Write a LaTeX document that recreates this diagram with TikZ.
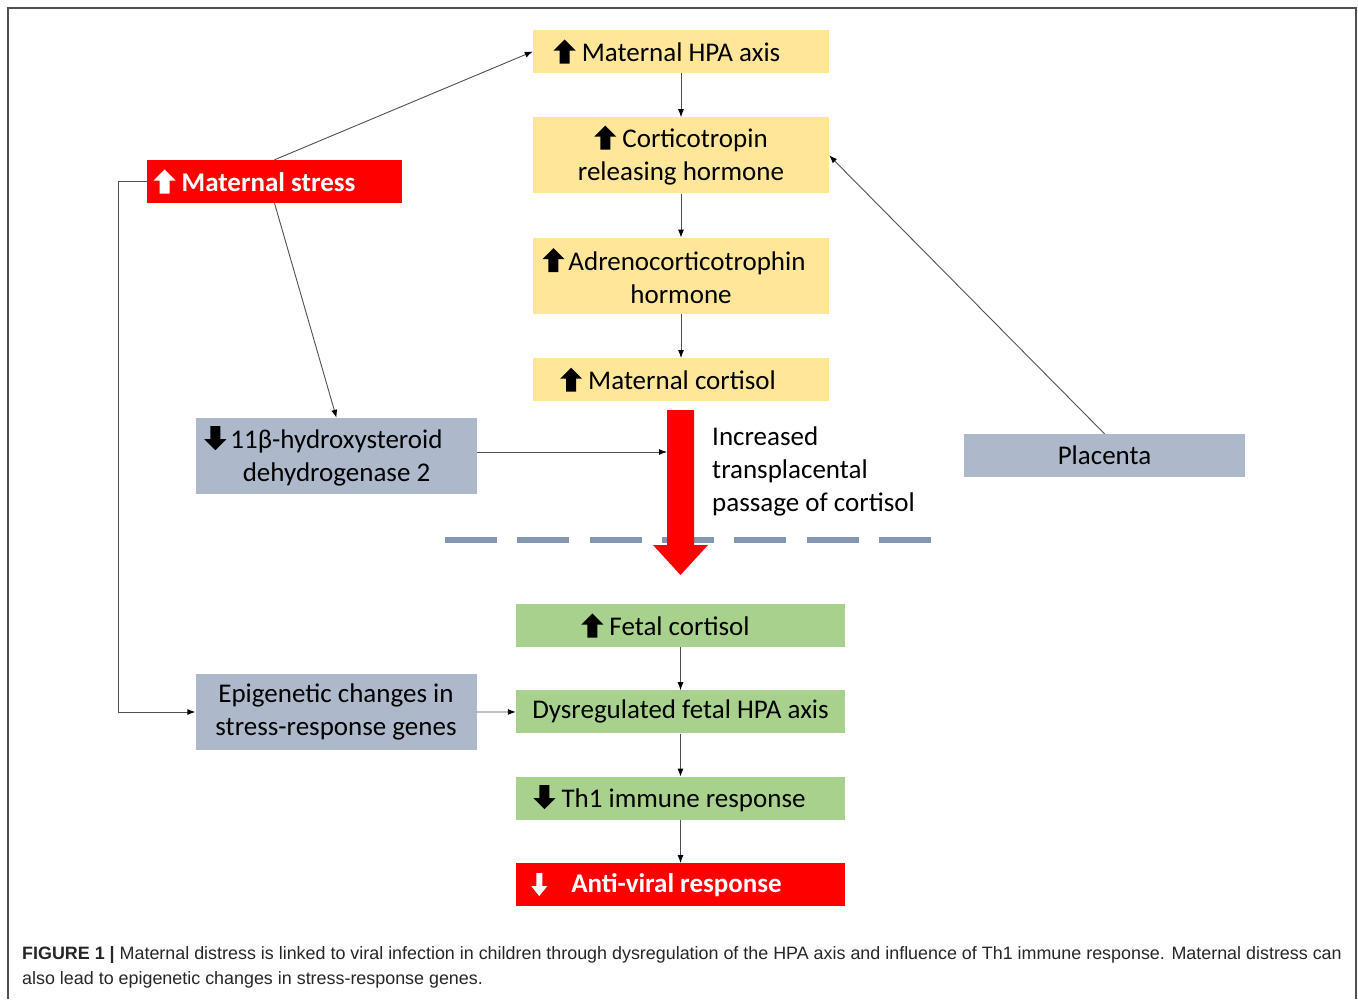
\documentclass[tikz,border=0pt]{standalone}
\usepackage{fontspec}
\setmainfont{Carlito}
\newfontfamily\capfont{Liberation Sans}
\usetikzlibrary{arrows.meta,positioning}

\definecolor{hpayellow}{HTML}{FFE699}
\definecolor{stressred}{HTML}{FF0000}
\definecolor{placgray}{HTML}{ADB9CA}
\definecolor{fetalgreen}{HTML}{A9D18E}
\definecolor{dashgray}{HTML}{8497B0}
\definecolor{linegray}{HTML}{505050}

% small block arrows used inside the boxes
\newcommand{\uparr}[1][black]{\tikz[baseline=2bp]\fill[#1] (-5bp,0bp) -- (5bp,0bp) -- (5bp,13bp) -- (11bp,13bp) -- (0bp,24bp) -- (-11bp,13bp) -- (-5bp,13bp) -- cycle;}
\newcommand{\downarr}[1][black]{\tikz[baseline=2bp]\fill[#1] (-5bp,24bp) -- (5bp,24bp) -- (5bp,11bp) -- (11bp,11bp) -- (0bp,0bp) -- (-11bp,11bp) -- (-5bp,11bp) -- cycle;}
\newcommand{\thindownarr}{\tikz[baseline=4bp]\fill[white] (-3bp,23bp) -- (3bp,23bp) -- (3bp,10bp) -- (8bp,10bp) -- (0bp,0bp) -- (-8bp,10bp) -- (-3bp,10bp) -- cycle;}

\begin{document}
\begin{tikzpicture}[x=1bp,y=-1bp,
    box/.style={inner sep=0pt,align=center,font=\fontsize{27bp}{33bp}\selectfont},
    hpa node/.style={box,fill=hpayellow,minimum width=296bp,minimum height=43bp},
    red node/.style={box,fill=stressred,text=white,minimum height=43bp,
                     font=\fontsize{27bp}{33bp}\selectfont\bfseries},
    gray node/.style={box,fill=placgray,minimum width=281bp,minimum height=43bp},
    fetal node/.style={box,fill=fetalgreen,minimum width=329bp,minimum height=43bp},
    conn/.style={draw=linegray,line width=0.9bp,-{Latex[length=8bp,width=6bp,black]}}]

  \useasboundingbox (0,0) rectangle (1358,999);
  \draw[line width=1.4bp,draw=linegray] (8,999) -- (8,8) -- (1356,8) -- (1356,999);

  % maternal side
  \node[hpa node] (hpa) at (681,51.5) {\uparr\ Maternal HPA axis\hspace*{28bp}};
  \node[hpa node,minimum height=76bp] (crh) [below=44bp of hpa] {\uparr\ Corticotropin\\ releasing hormone};
  \node[hpa node,minimum height=76bp] (acth) [below=44bp of crh] {\uparr\hspace{4bp}Adrenocorticotrophin\hspace*{14bp}\\ hormone};
  \node[hpa node] (mcort) [below=44bp of acth] {\uparr\ Maternal cortisol\hspace*{26bp}};

  \node[red node,minimum width=255bp] (stress) at (274.5,181.5) {\uparr[white]\ Maternal stress\hspace*{40bp}};
  \node[gray node,minimum height=76bp] (hsd) at (336.5,456) {\downarr\hspace{4bp}11β-hydroxysteroid\hspace*{26bp}\\ dehydrogenase 2};
  \node[gray node] (plac) at (1104.5,455.5) {Placenta};
  \node[gray node,minimum height=76bp] (epi) at (336,712) {Epigenetic changes in\\ stress-response genes};

  % fetal side
  \node[fetal node] (fcort) at (680.5,625.5) {\uparr\ Fetal cortisol\hspace*{30bp}};
  \node[fetal node] (dys) [below=43bp of fcort] {Dysregulated fetal HPA axis};
  \node[fetal node] (th1) [below=43bp of dys] {\downarr\ Th1 immune response\hspace*{22bp}};
  \node[red node,minimum width=329bp] (avr) [below=43bp of th1] {\thindownarr\hspace{24bp}Anti-viral response\hspace*{48bp}};

  % placental barrier and passage of cortisol
  \draw[dashgray,line width=6bp,dash pattern=on 52bp off 20.3bp] (445,540) -- (931,540);
  \fill[stressred] (667,410) -- (694,410) -- (694,545) -- (708,545) -- (680.5,575)
    -- (653,545) -- (667,545) -- cycle;
  \coordinate (shaft) at (667,452);
  \node[box,align=left,anchor=west] (passage) at (712,471) {Increased\\ transplacental\\ passage of cortisol};

  \path[every edge/.style=conn]
    (hpa) edge (crh)
    (crh) edge (acth)
    (acth) edge (mcort)
    (fcort) edge (dys)
    (dys) edge (th1)
    (th1) edge (avr)
    (stress.north) edge (hpa.west)
    (stress.south) edge (hsd.north)
    (plac.north) edge (crh.east)
    (epi) edge (dys);
  \draw[conn] ([yshift=4bp]hsd.east) -- ([yshift=4bp]hsd.east -| shaft);
  \draw[conn] (stress.west) -- ++(-28,0) |- (epi.west);

  \node[anchor=north west,inner sep=0pt,align=left,text=black!85,
        font=\capfont\fontsize{17.9bp}{25bp}\selectfont] (caption) at (22,946)
    {\textbf{FIGURE 1 |} Maternal distress is linked to viral infection in children through dysregulation of the HPA axis and influence of Th1 immune response. Maternal distress can\\
     also lead to epigenetic changes in stress-response genes.};
\end{tikzpicture}
\end{document}
